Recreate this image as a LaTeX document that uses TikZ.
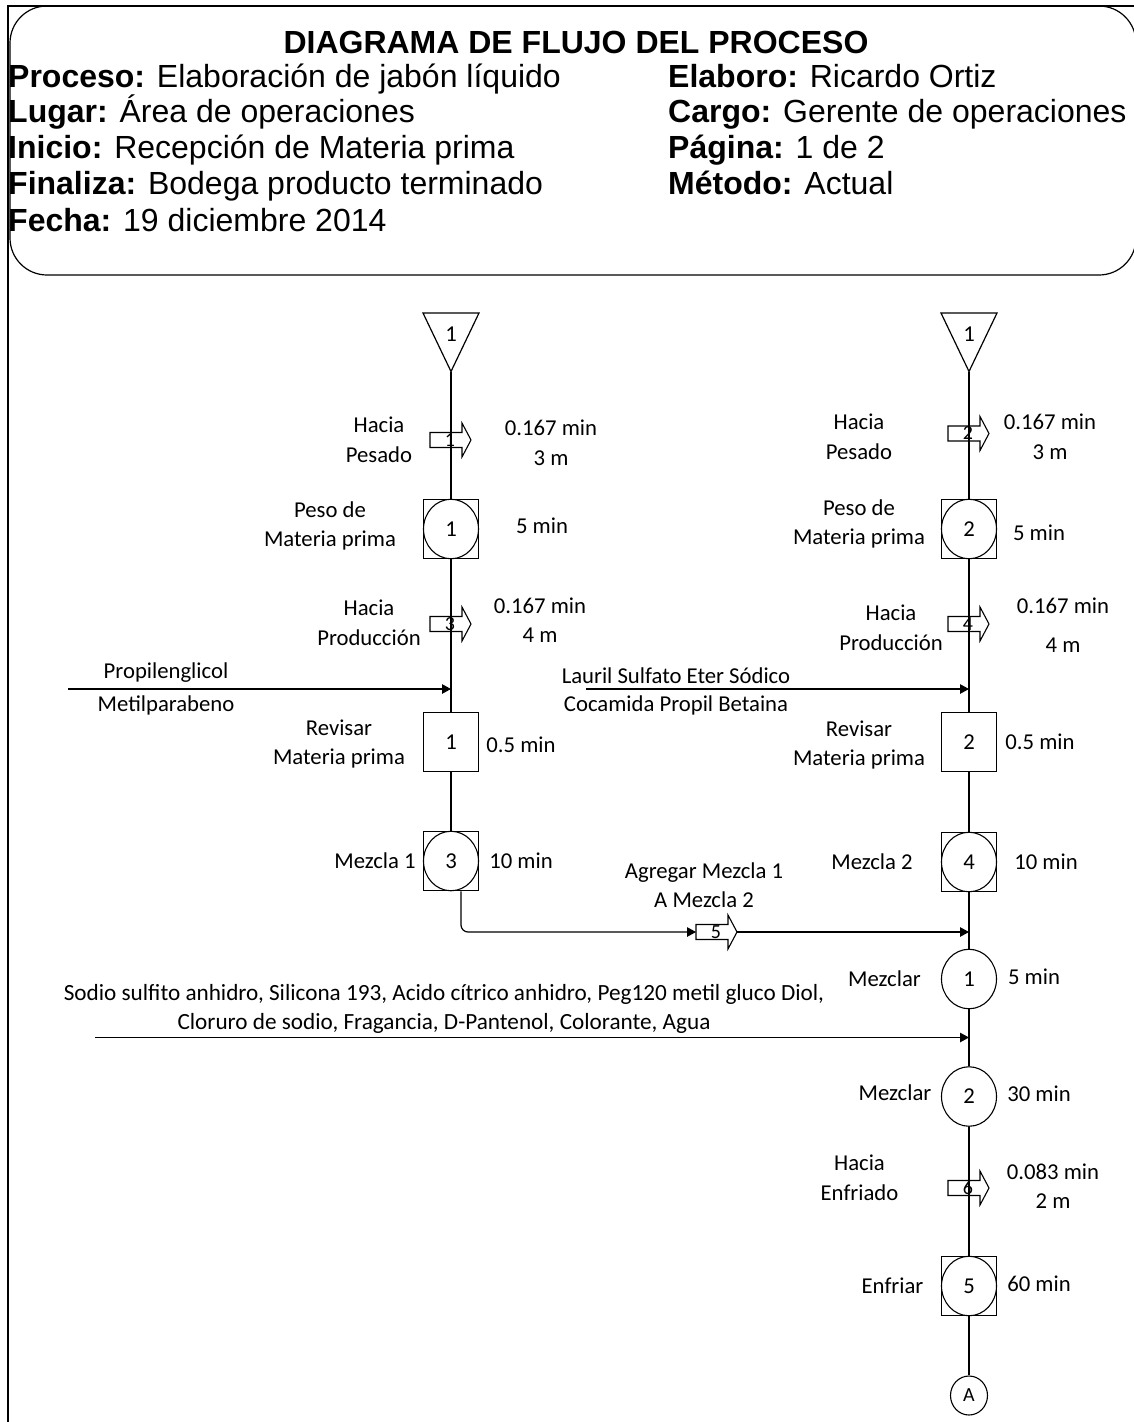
\documentclass[tikz,border=0pt]{standalone}
\usepackage{fontspec}
\setmainfont{Carlito}
\newfontfamily\hdrfont{Liberation Sans}
\usetikzlibrary{shapes.geometric,arrows.meta}

\tikzset{
  lw/.style={line width=1.2pt},
  lbl/.style={font=\fontsize{22.7}{29.5}\selectfont, align=center, inner sep=0pt},
  opbox/.style={draw, line width=1.1pt, minimum width=55pt, minimum height=59.5pt,
    inner sep=0pt, font=\fontsize{22.7}{27}\selectfont},
  opcirc/.style={draw, ellipse, line width=1.1pt, minimum width=55pt, minimum height=59.5pt,
    inner sep=0pt, font=\fontsize{22.7}{27}\selectfont},
  link/.style={line width=1.2pt},
  feed/.style={line width=1.2pt, -{Triangle[length=9pt,width=9.5pt]}},
  hdr/.style={font=\hdrfont\fontsize{32}{36}\selectfont, anchor=base west, inner sep=0pt},
  transp/.pic={
    \draw[line width=1.1pt] (-21,-7.5) -- (11,-7.5) -- (11,-17) -- (20,0) -- (11,17)
      -- (11,7.5) -- (-21,7.5) -- cycle;
    \node[font=\fontsize{20}{22}\selectfont, inner sep=0pt] (-n) at (-1,0) {#1};
    \coordinate (-in) at (-21,0);
    \coordinate (-out) at (20,0);
  },
}

\begin{document}
\begin{tikzpicture}[x=1pt,y=-1pt]
\useasboundingbox (0,0) rectangle (1133,1422);

% page frame and header panel
\draw[line width=2.5pt] (8,1440) -- (8,6) -- (1145,6);
\draw[line width=1.2pt, rounded corners=37pt] (10,6) rectangle (1136,275);

\node[font=\hdrfont\bfseries\fontsize{32}{36}\selectfont, anchor=base, inner sep=0pt]
  (title) at (576,53) {DIAGRAMA DE FLUJO DEL PROCESO};
\node[hdr] (proceso) at (8,87) {\textbf{Proceso:} Elaboración de jabón líquido};
\node[hdr] (lugar) at (8,122) {\textbf{Lugar:} Área de operaciones};
\node[hdr] (inicio) at (8,158) {\textbf{Inicio:} Recepción de Materia prima};
\node[hdr] (finaliza) at (8,194) {\textbf{Finaliza:} Bodega producto terminado};
\node[hdr] (fecha) at (8,231) {\textbf{Fecha:} 19 diciembre 2014};
\node[hdr] (elaboro) at (668,87) {\textbf{Elaboro:} Ricardo Ortiz};
\node[hdr] (cargo) at (668,122) {\textbf{Cargo:} Gerente de operaciones};
\node[hdr] (pagina) at (668,158) {\textbf{Página:} 1 de 2};
\node[hdr] (metodo) at (668,194) {\textbf{Método:} Actual};

% ---------------- left line ----------------
\coordinate (s1Ltip) at (451,371.5);
\draw[lw] (423,313) -- (479,313) -- (s1Ltip) -- cycle;
\node[lbl] (s1Lnum) at (451,334) {1};

\node[opbox] (c1L) at (451,529) {};
\node[opcirc] (c1Lo) at (c1L) {1};
\node[opbox] (i1L) at (451,742) {1};
\node[opbox] (c3L) at (451,861) {};
\node[opcirc] (c3Lo) at (c3L) {3};

\draw[link] (s1Ltip) -- (c1L.north);
\draw[link] (c1L.south) -- (i1L.north);
\draw[link] (i1L.south) -- (c3L.north);

\pic (t1) at (451,440) {transp=1};
\pic (t3) at (451,624) {transp=3};

\node[lbl] (lt1) at (379,440) {Hacia\\Pesado};
\node[lbl] (lt1t) at (551,443) {0.167 min\\3 m};
\node[lbl] (lc1) at (330,526) {Peso de\\Materia prima};
\node[lbl] (lc1t) at (542,526) {5 min};
\node[lbl] (lt3) at (369,623) {Hacia\\Producción};
\node[lbl] (lt3t) at (540,620) {0.167 min\\4 m};
\node[lbl] (li1) at (339,744) {Revisar\\Materia prima};
\node[lbl] (li1t) at (521,745) {0.5 min};
\node[lbl] (lc3) at (375,861) {Mezcla 1};
\node[lbl] (lc3t) at (521,861) {10 min};

\coordinate (inA) at (68,689);
\draw[feed] (inA) -- (inA -| c1L.center);
\node[lbl] (propi) at (166,673) {Propilenglicol};
\node[lbl] (metil) at (166,705) {Metilparabeno};

% ---------------- right line ----------------
\coordinate (s1Rtip) at (969,371.5);
\draw[lw] (941,313) -- (997,313) -- (s1Rtip) -- cycle;
\node[lbl] (s1Rnum) at (969,334) {1};

\node[opbox] (c2R) at (969,529) {};
\node[opcirc] (c2Ro) at (c2R) {2};
\node[opbox] (i2R) at (969,742) {2};
\node[opbox] (c4R) at (969,862) {};
\node[opcirc] (c4Ro) at (c4R) {4};
\node[opcirc] (o1R) at (969,979) {1};
\node[opcirc] (o2R) at (969,1096.5) {2};
\node[opbox] (c5R) at (969,1286) {};
\node[opcirc] (c5Ro) at (c5R) {5};
\node[draw, ellipse, line width=1.1pt, minimum width=37pt, minimum height=39pt, inner sep=0pt,
  font=\fontsize{20}{24}\selectfont] (conA) at (969,1395.5) {A};

\draw[link] (s1Rtip) -- (c2R.north);
\draw[link] (c2R.south) -- (i2R.north);
\draw[link] (i2R.south) -- (c4R.north);
\draw[link] (c4R.south) -- (o1R.north);
\draw[link] (o1R.south) -- (o2R.north);
\draw[link] (o2R.south) -- (c5R.north);
\draw[link] (c5R.south) -- (conA.north);

\pic (t2) at (969,433.5) {transp=2};
\pic (t4) at (969,624) {transp=4};
\pic (t6) at (969,1188) {transp=6};

\node[lbl] (rt2) at (859,437) {Hacia\\Pesado};
\node[lbl] (rt2t) at (1050,437) {0.167 min\\3 m};
\node[lbl] (rc2) at (859,524) {Peso de\\Materia prima};
\node[lbl] (rc2t) at (1039,533) {5 min};
\node[lbl] (rt4) at (891,628) {Hacia\\Producción};
\node[lbl] (rt4t) at (1063,625) {0.167 min\\[10pt]4 m};
\node[lbl] (ri2) at (859,745) {Revisar\\Materia prima};
\node[lbl] (ri2t) at (1040,742) {0.5 min};
\node[lbl] (rc4) at (872,862) {Mezcla 2};
\node[lbl] (rc4t) at (1046,862) {10 min};
\node[lbl] (ro1) at (884.5,979) {Mezclar};
\node[lbl] (ro1t) at (1034,977) {5 min};
\node[lbl] (ro2) at (895,1093) {Mezclar};
\node[lbl] (ro2t) at (1039,1094) {30 min};
\node[lbl] (rt6) at (859.5,1178) {Hacia\\Enfriado};
\node[lbl] (rt6t) at (1053,1186) {0.083 min\\2 m};
\node[lbl] (rc5) at (892.5,1286) {Enfriar};
\node[lbl] (rc5t) at (1039,1284) {60 min};

\coordinate (inB) at (586,689);
\draw[feed] (inB) -- (inB -| c2R.center);
\node[lbl] (lauril) at (676,676) {Lauril Sulfato Eter Sódico};
\node[lbl] (cocam) at (676,705) {Cocamida Propil Betaina};

% transfer of the first mix into the second
\pic (t5) at (717,932) {transp=5};
\draw[link, rounded corners=7pt, -{Triangle[length=9pt,width=9.5pt]}]
  ([xshift=10pt]c3L.south) |- (t5-in);
\draw[feed] (t5-out) -- (t5-out -| c4R.center);
\node[lbl] (agr) at (704,885) {Agregar Mezcla 1\\A Mezcla 2};

\coordinate (inC) at (95,1037.5);
\draw[feed] (inC) -- (inC -| o1R.center);
\node[lbl, font=\fontsize{23.2}{29.5}\selectfont] (sodio1) at (444,994)
  {Sodio sulfito anhidro, Silicona 193, Acido cítrico anhidro, Peg120 metil gluco Diol,};
\node[lbl, font=\fontsize{23.2}{29.5}\selectfont] (sodio2) at (444,1023)
  {Cloruro de sodio, Fragancia, D-Pantenol, Colorante, Agua};
\end{tikzpicture}
\end{document}
